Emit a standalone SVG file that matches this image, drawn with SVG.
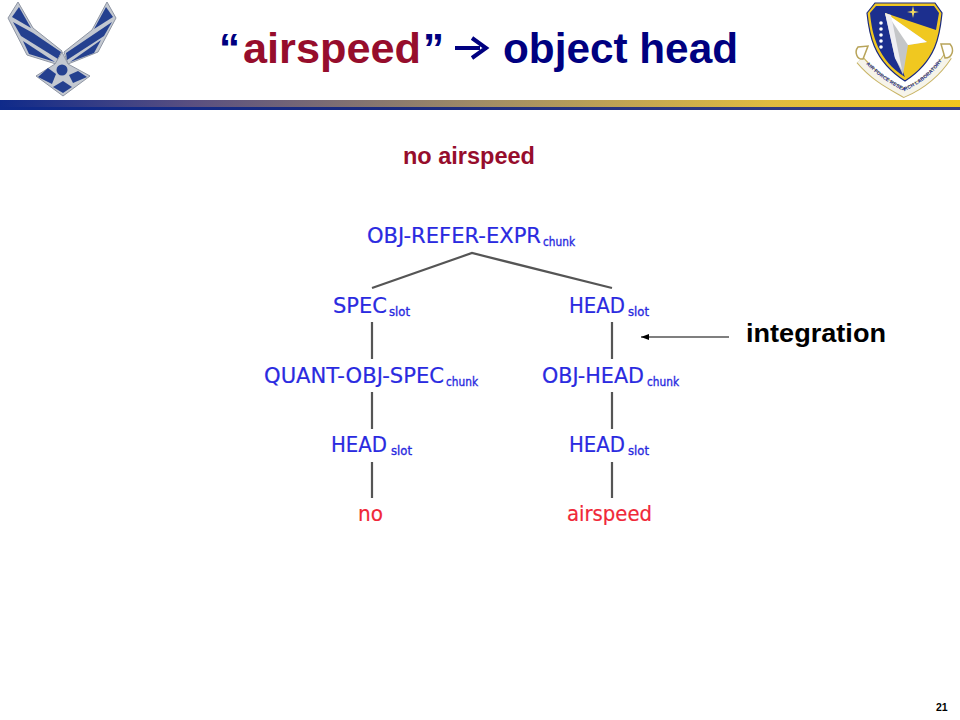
<svg xmlns="http://www.w3.org/2000/svg" width="960" height="720" viewBox="0 0 960 720">
<style>
text{white-space:pre}
.b{font-family:"DejaVu Sans",sans-serif;font-size:21px;fill:#2a2ae0;stroke:#2a2ae0;stroke-width:.2}
.s{font-family:"DejaVu Sans",sans-serif;font-size:12px;fill:#2a2ae0;stroke:#2a2ae0;stroke-width:.35}
.r{font-family:"DejaVu Sans",sans-serif;font-size:21px;fill:#f02838;stroke:#f02838;stroke-width:.2}
.t{font-family:"Liberation Sans",Arial,sans-serif;font-weight:bold}
.c{stroke:#555;stroke-width:2.2;fill:none}
.silver{fill:#c3c8d0;stroke:#8f96a4;stroke-width:1}
.blue{fill:#24408f}
</style>
<defs>
<linearGradient id="bar" x1="0" x2="1" y1="0" y2="0">
<stop offset="0" stop-color="#0f2a8a"/><stop offset="0.2" stop-color="#5a4f80"/><stop offset="0.5" stop-color="#a08c66"/><stop offset="0.8" stop-color="#e0bb40"/><stop offset="1" stop-color="#f2c61e"/>
</linearGradient>
<linearGradient id="barb" x1="0" x2="1" y1="0" y2="0">
<stop offset="0" stop-color="#0f2a8a"/><stop offset="0.4" stop-color="#1a2a80"/><stop offset="1" stop-color="#3a3f80"/>
</linearGradient>
<marker id="ah" markerWidth="9" markerHeight="7" refX="8" refY="3" orient="auto" markerUnits="userSpaceOnUse"><path d="M0 0L8 3L0 6Z" fill="#000"/></marker>
<path id="rib" d="M866,64C880,78 892,85 904,91C918,85 932,76 944,58"/>
</defs>
<rect width="960" height="720" fill="#fff"/>
<rect x="0" y="100" width="960" height="7" fill="url(#bar)"/>
<rect x="0" y="107" width="960" height="3" fill="url(#barb)"/>
<g id="af-logo">
<polygon class="silver" points="18,2 33,28 62,51 60,58 56,64 27,55 8,18"/>
<polygon class="silver" points="107,2 116,18 98,52 68,64 64,52 92,30"/>
<polygon class="blue" points="19,7 31,28 12,17"/>
<polygon class="blue" points="13,22 33,33 61,52 58,59 21,36"/>
<polygon class="blue" points="23,41 55,62 29,54"/>
<polygon class="blue" points="106,7 113,17 94,29"/>
<polygon class="blue" points="112,22 66,53 67,60 104,36"/>
<polygon class="blue" points="101,40 70,62 94,53"/>
<polygon class="silver" points="62,52 68,64 90,76 63,96 36,76 55,64"/>
<polygon class="blue" points="48,68 38,77 52,84 56,74"/>
<polygon class="blue" points="78,71 87,77 73,83 69,75"/>
<polygon class="blue" points="63,81 72,87 63,93 53,87"/>
<circle class="blue" cx="62" cy="70" r="5.5"/>
</g>
<g id="afrl-logo">
<path d="M867,13L875,3H935L942,13C940,32 938,60 905,81C872,60 869,32 867,13Z" fill="#f0c820" stroke="#1a2a80" stroke-width="1.2"/>
<path d="M870,13L876,6H934L939,13L936,30L885,13L905,77C878,60 872,35 870,13Z" fill="#1c2f8e"/>
<polygon points="885,13 933,33 933,47 905,77" fill="#f0c820"/>
<polygon points="885,13 927,42 908,45 903,75 895,58" fill="#c4c6c8"/>
<polygon points="887,14 927,42 908,45" fill="#fff"/>
<polygon points="885,13 891,15 902,70 895,58" fill="#eeeef2"/>
<path d="M913,6l1.200,5 4.800,1-4.800,1-1.200,5-1.200-5-4.800-1 4.800-1Z" fill="#f0d860"/>
<g fill="#fff"><circle cx="881" cy="23" r="1.800"/><circle cx="881" cy="29" r="1.800"/><circle cx="881" cy="35" r="1.800"/><circle cx="881" cy="41" r="1.800"/><circle cx="881" cy="47" r="1.800"/></g>
<path d="M860,60C875,78 892,86 904,93C920,86 935,76 948,56" fill="none" stroke="#c9b566" stroke-width="9"/>
<path d="M860,60C875,78 892,86 904,93C920,86 935,76 948,56" fill="none" stroke="#f6f4ea" stroke-width="7"/>
<path d="M858,47C854,52 857,60 863,59L868,46ZM950,44C955,50 952,58 945,58L941,44Z" fill="#fff" stroke="#b8a45a" stroke-width="1.500"/>
<text font-family="'Liberation Sans',sans-serif" font-weight="bold" font-size="5" fill="#1c2f8e"><textPath href="#rib" textLength="96">AIR FORCE RESEARCH LABORATORY</textPath></text>
</g>
<g id="title">
<text class="t" x="219" y="63" font-size="42" fill="#000080">“</text>
<text class="t" x="243" y="63" font-size="42" fill="#960d2c" textLength="178" lengthAdjust="spacingAndGlyphs">airspeed</text>
<text class="t" x="423" y="63" font-size="42" fill="#000080">”</text>
<path d="M455,48H480M472,38L486,48L472,58" fill="none" stroke="#000080" stroke-width="4"/>
<text class="t" x="503" y="63" font-size="42" fill="#000080" textLength="235" lengthAdjust="spacingAndGlyphs">object head</text>
</g>
<text id="subtitle" class="t" x="403" y="164" font-size="23" fill="#960d2c" textLength="132" lengthAdjust="spacingAndGlyphs">no airspeed</text>
<g id="connectors">
<path class="c" d="M372,288L472,253L612,288"/>
<path class="c" d="M372,322V359M612,322V359M372,392V429M612,392V429M372,462V498M612,462V498"/>
<line x1="729" y1="337" x2="641" y2="337" stroke="#000" stroke-width="1.200" marker-end="url(#ah)"/>
</g>
<g id="n1"><text class="b" x="367" y="243" textLength="174" lengthAdjust="spacingAndGlyphs">OBJ-REFER-EXPR</text><text class="s" x="543" y="246" textLength="32" lengthAdjust="spacingAndGlyphs">chunk</text></g>
<g id="n2"><text class="b" x="333" y="313" textLength="54" lengthAdjust="spacingAndGlyphs">SPEC</text><text class="s" x="389" y="316" textLength="21" lengthAdjust="spacingAndGlyphs">slot</text></g>
<g id="n3"><text class="b" x="569" y="313" textLength="56" lengthAdjust="spacingAndGlyphs">HEAD</text><text class="s" x="628" y="316" textLength="21" lengthAdjust="spacingAndGlyphs">slot</text></g>
<g id="n4"><text class="b" x="264" y="383" textLength="180" lengthAdjust="spacingAndGlyphs">QUANT-OBJ-SPEC</text><text class="s" x="446" y="386" textLength="32" lengthAdjust="spacingAndGlyphs">chunk</text></g>
<g id="n5"><text class="b" x="542" y="383" textLength="102" lengthAdjust="spacingAndGlyphs">OBJ-HEAD</text><text class="s" x="647" y="386" textLength="32" lengthAdjust="spacingAndGlyphs">chunk</text></g>
<g id="n6"><text class="b" x="331" y="452" textLength="56" lengthAdjust="spacingAndGlyphs">HEAD</text><text class="s" x="391" y="455" textLength="21" lengthAdjust="spacingAndGlyphs">slot</text></g>
<g id="n7"><text class="b" x="569" y="452" textLength="56" lengthAdjust="spacingAndGlyphs">HEAD</text><text class="s" x="628" y="455" textLength="21" lengthAdjust="spacingAndGlyphs">slot</text></g>
<g id="n8"><text class="r" x="358" y="521" textLength="25" lengthAdjust="spacingAndGlyphs">no</text></g>
<g id="n9"><text class="r" x="567" y="521" textLength="85" lengthAdjust="spacingAndGlyphs">airspeed</text></g>
<text id="integration" class="t" x="746" y="342" font-size="26" fill="#000" textLength="140" lengthAdjust="spacingAndGlyphs">integration</text>
<text id="page" class="t" x="936" y="711" font-size="10.500" fill="#000">21</text>
</svg>
